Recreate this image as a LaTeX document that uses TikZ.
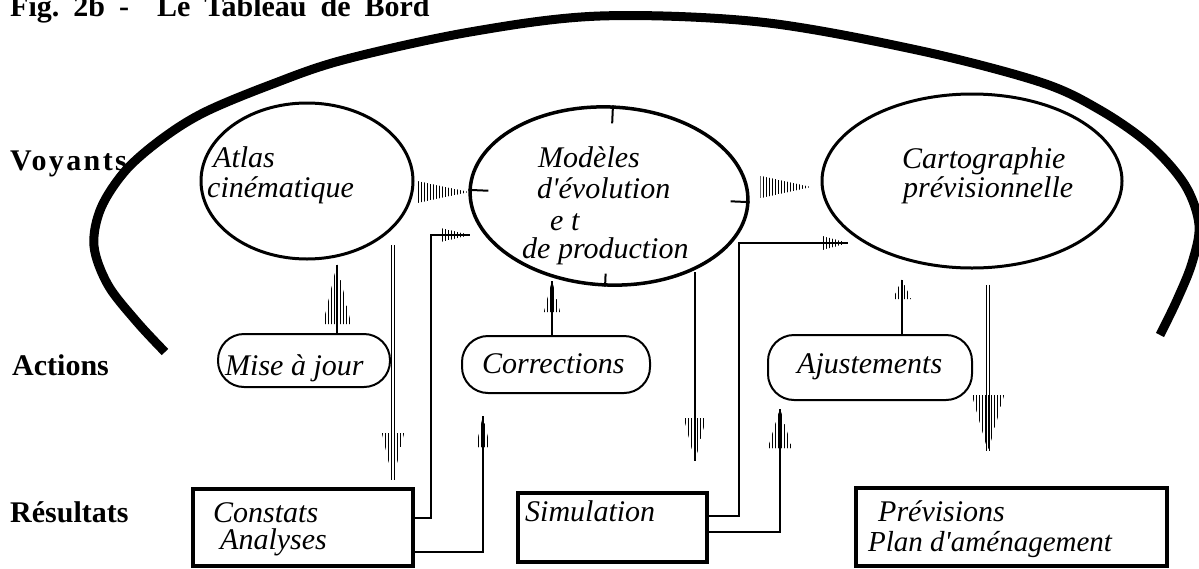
\documentclass[tikz,border=0pt]{standalone}
\usepackage{fontspec}
\setmainfont{Liberation Serif}
\usetikzlibrary{shapes.geometric,calc,patterns}

% vertical hatching used to fill the arrow cones
\pgfdeclarepatternformonly{vstripes}{\pgfqpoint{0pt}{-0.5pt}}{\pgfqpoint{3pt}{1.5pt}}{\pgfqpoint{3pt}{1pt}}{%
  \pgfsetlinewidth{1.4pt}%
  \pgfpathmoveto{\pgfqpoint{1.5pt}{-0.5pt}}%
  \pgfpathlineto{\pgfqpoint{1.5pt}{1.5pt}}%
  \pgfusepath{stroke}}

% hatched cones: base centre, tip, half width
\newcommand\hcone[3]{\fill[pattern=vstripes] ($(#1)+(0,#3)$) -- (#2) -- ($(#1)+(0,-#3)$) -- cycle;}
\newcommand\vcone[3]{\fill[pattern=vstripes] ($(#1)+(#3,0)$) -- (#2) -- ($(#1)+(-#3,0)$) -- cycle;}

\tikzset{
  lbl/.style={font=\fontsize{30}{32}\selectfont\bfseries, anchor=base west, inner sep=0},
  itx/.style={font=\fontsize{30}{32}\selectfont\itshape, anchor=base west, inner sep=0},
  voy/.style={ellipse, draw, line width=3pt, inner sep=0},
  act/.style={draw, line width=2pt, rounded corners=26pt, inner sep=0},
  res/.style={draw, line width=4pt, inner sep=0},
  link/.style={line width=1.5pt},
  shaft/.style={line width=2.5pt},
  dshaft/.style={line width=1pt, double, double distance=1.3pt},
}

\begin{document}
\begin{tikzpicture}[x=1pt, y=-1pt]
\useasboundingbox (0,0) rectangle (1199,568);

% title and row labels
\node[lbl] (title) at (10,16) {Fig.\hspace{14pt}2b\hspace{14pt}-\hspace{28pt}Le\hspace{14pt}Tableau\hspace{14pt}de\hspace{14pt}Bord};
\node[lbl] (voyants) at (10,170) {\addfontfeatures{LetterSpace=8}Voyants};
\node[lbl] (actions) at (12,375) {Actions};
\node[lbl] (resultats) at (10,522) {Résultats};

% the large enclosing arc
\draw[line width=9pt] plot[smooth, tension=0.55] coordinates {
  (165,352) (137,322) (108,285) (94,246) (101,208) (126,170) (163,138)
  (205,112) (270,85) (343,60) (470,32) (600,16) (760,22) (917,50)
  (1040,82) (1100,110) (1150,145) (1185,185) (1199,225) (1192,263)
  (1177,300) (1160,335)};

% indicators
\node[voy, minimum width=212pt, minimum height=156pt] (atlas) at (307,181) {};
\node[voy, line width=3.5pt, minimum width=278pt, minimum height=178pt, rotate=-2.5] (modeles) at (609,196) {};
\node[voy, minimum width=300pt, minimum height=174pt] (carto) at (972,181) {};

\node[itx] (atlas1) at (213,167) {Atlas};
\node[itx] (atlas2) at (207,197) {cinématique};
\node[itx] (mod1) at (538,167) {Modèles};
\node[itx] (mod2) at (537,198) {d\textquotesingle évolution};
\node[itx] (mod3) at (550,230) {e t};
\node[itx] (mod4) at (522,258) {de production};
\node[itx] (carto1) at (902,168) {Cartographie};
\node[itx] (carto2) at (903,197) {prévisionnelle};

% ticks on the model ellipse
\draw[line width=2pt] (modeles.north) -- ($(modeles.north)!18pt!(modeles.south)$);
\draw[line width=2pt] (modeles.south) -- ($(modeles.south)!13pt!(modeles.north)$);
\draw[line width=2pt] (modeles.west) -- ($(modeles.west)!20pt!(modeles.east)$);
\draw[line width=2pt] (modeles.east) -- ($(modeles.east)!19pt!(modeles.west)$);

% actions
\node[act, minimum width=172pt, minimum height=53pt] (mise) at (304,360.5) {};
\node[act, minimum width=188pt, minimum height=57pt] (corr) at (556,364.5) {};
\node[act, minimum width=204pt, minimum height=65pt] (ajust) at (870,367.5) {};
\node[itx] (misetxt) at (225,375) {Mise à jour};
\node[itx] (corrtxt) at (482,373) {Corrections};
\node[itx] (ajusttxt) at (797,373) {Ajustements};

% results
\node[res, minimum width=220pt, minimum height=77pt] (constats) at (303,527.5) {};
\node[res, minimum width=189pt, minimum height=69pt] (simul) at (612.5,527.5) {};
\node[res, minimum width=311pt, minimum height=78pt] (prev) at (1011.5,527) {};
\node[itx] (const1) at (213,522) {Constats};
\node[itx] (const2) at (220,549) {Analyses};
\node[itx] (simtxt) at (525,521) {Simulation};
\node[itx] (prev1) at (878,521) {Prévisions};
\node[itx, font=\fontsize{29}{31}\selectfont\itshape] (prev2) at (868,551) {Plan d\textquotesingle aménagement};

% atlas -> models, models -> cartography
\coordinate (c1b) at ($(atlas.east)+(2,11)$);
\coordinate (c1t) at ($(atlas.east)+(54,11)$);
\hcone{c1b}{c1t}{11}
\coordinate (c2b) at ($(carto.west)+(-60,6)$);
\coordinate (c2t) at ($(carto.west)+(-10,6)$);
\hcone{c2b}{c2t}{11}

% constats -> models
\coordinate (c3s) at ($(constats.east)+(0,-9.5)$);
\coordinate (c3c) at (431,235);
\coordinate (c3b) at (440,235);
\coordinate (c3t) at (470,235);
\draw[link] (c3s) -| (c3c) -- (c3t);
\hcone{c3b}{c3t}{7}

% constats -> corrections
\coordinate (c4s) at ($(constats.east)+(0,24.5)$);
\coordinate (c4b) at (483,447);
\coordinate (c4t) at ($(corr.south)+(-73,22)$);
\draw[link] (c4s) -| (c4t);
\vcone{c4b}{c4t}{7}

% simulation -> cartography
\coordinate (c5s) at ($(simul.east)+(0,-11.5)$);
\coordinate (c5c) at (739,243);
\coordinate (c5b) at (822,243);
\coordinate (c5t) at (848,243);
\draw[link] (c5s) -| (c5c) -- (c5t);
\hcone{c5b}{c5t}{7}

% simulation -> ajustements
\coordinate (c6s) at ($(simul.east)+(0,4.5)$);
\coordinate (c6b) at (780,448);
\coordinate (c6t) at ($(ajust.south)+(-90,8)$);
\draw[link] (c6s) -| (c6t);
\vcone{c6b}{c6t}{12}

% mise a jour -> atlas
\coordinate (c7s) at ($(mise.north)+(33,0)$);
\coordinate (c7b) at ($(mise.north)+(33,-9)$);
\coordinate (c7t) at ($(atlas.south)+(30,4)$);
\draw[shaft] (c7s) -- (c7t);
\vcone{c7b}{c7t}{14}

% atlas -> constats
\coordinate (c8s) at (393,245);
\coordinate (c8b) at (393,433);
\coordinate (c8t) at ($(constats.north)+(90,-7)$);
\draw[dshaft] (c8s) -- (c8t);
\vcone{c8b}{c8t}{11}

% corrections -> models
\coordinate (c9s) at ($(corr.north)+(-4,0)$);
\coordinate (c9b) at ($(corr.north)+(-4,-23)$);
\coordinate (c9t) at ($(corr.north)+(-4,-54)$);
\draw[shaft] (c9s) -- (c9t);
\vcone{c9b}{c9t}{8}

% models -> simulation
\coordinate (c10s) at (695,272);
\coordinate (c10b) at (695,418);
\coordinate (c10t) at ($(simul.north)+(82.5,-30)$);
\draw[shaft] (c10s) -- (c10t);
\vcone{c10b}{c10t}{11}

% ajustements -> cartography
\coordinate (c11s) at ($(ajust.north)+(32,0)$);
\coordinate (c11b) at ($(ajust.north)+(32,-35)$);
\coordinate (c11t) at ($(carto.south)+(-70,10)$);
\draw[shaft] (c11s) -- (c11t);
\vcone{c11b}{c11t}{9}

% cartography -> previsions
\coordinate (c12s) at ($(carto.south)+(16,15)$);
\coordinate (c12b) at (988,395);
\coordinate (c12t) at ($(prev.north)+(-23.5,-35)$);
\draw[dshaft] (c12s) -- (c12t);
\vcone{c12b}{c12t}{16}
\end{tikzpicture}
\end{document}
